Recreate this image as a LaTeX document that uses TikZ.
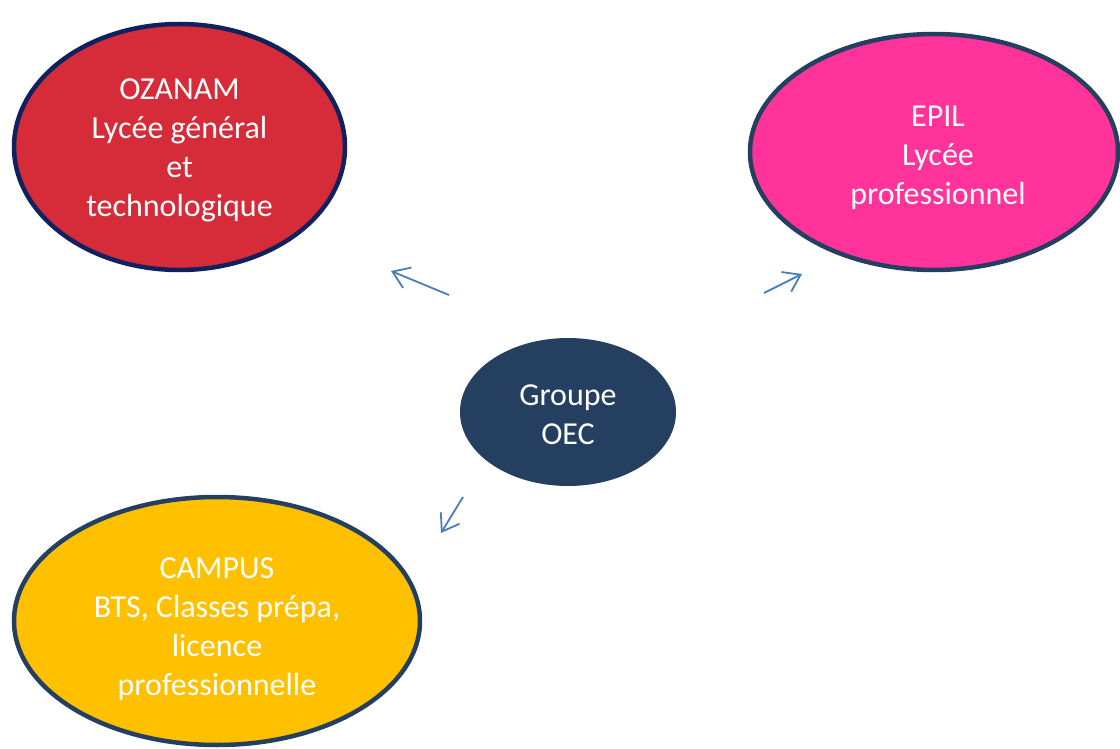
\documentclass[tikz,border=0pt]{standalone}
\usepackage{fontspec}
\setmainfont{Carlito}
\usetikzlibrary{arrows.meta}
\definecolor{ozred}{HTML}{D62B38}
\definecolor{ozline}{HTML}{10225E}
\definecolor{epink}{HTML}{FF3399}
\definecolor{navy}{HTML}{243F60}
\definecolor{gold}{HTML}{FFC000}
\definecolor{arrowblue}{HTML}{4A7EBB}
\begin{document}
\begin{tikzpicture}[x=1pt,y=-1pt,
  blobline/.style={line width=4.5pt},
  label/.style={text=white, align=center, font=\fontsize{32}{39}\selectfont},
  link/.style={draw=arrowblue, line width=1.8pt, -{Straight Barb[length=16pt,width=22pt,line width=1.8pt]}}]
\useasboundingbox (0,0) rectangle (1120,749);
\draw[blobline, ozline, fill=ozred] (179.5,147) ellipse [x radius=165.5, y radius=123];
\node[label] (ozanam) at (179.5,150) {OZANAM\\Lycée général\\et\\technologique};
\draw[blobline, navy, fill=epink] (934,152) ellipse [x radius=184, y radius=118];
\node[label] (epil) at (938,158) {EPIL\\Lycée\\professionnel};
\fill[navy] (568,412) ellipse [x radius=108, y radius=74];
\node[label] (oec) at (568,415) {Groupe\\OEC};
\draw[blobline, navy, fill=gold] (217,621) ellipse [x radius=203, y radius=124];
\node[label] (campus) at (217,629) {CAMPUS\\BTS, Classes prépa,\\licence\\professionnelle};
\coordinate (a1s) at (449,295);
\coordinate (a1e) at (391,271);
\coordinate (a2s) at (764,293);
\coordinate (a2e) at (802,274);
\coordinate (a3s) at (463,497);
\coordinate (a3e) at (441,533);
\draw[link] (a1s) -- (a1e);
\draw[link] (a2s) -- (a2e);
\draw[link] (a3s) -- (a3e);
\end{tikzpicture}
\end{document}
